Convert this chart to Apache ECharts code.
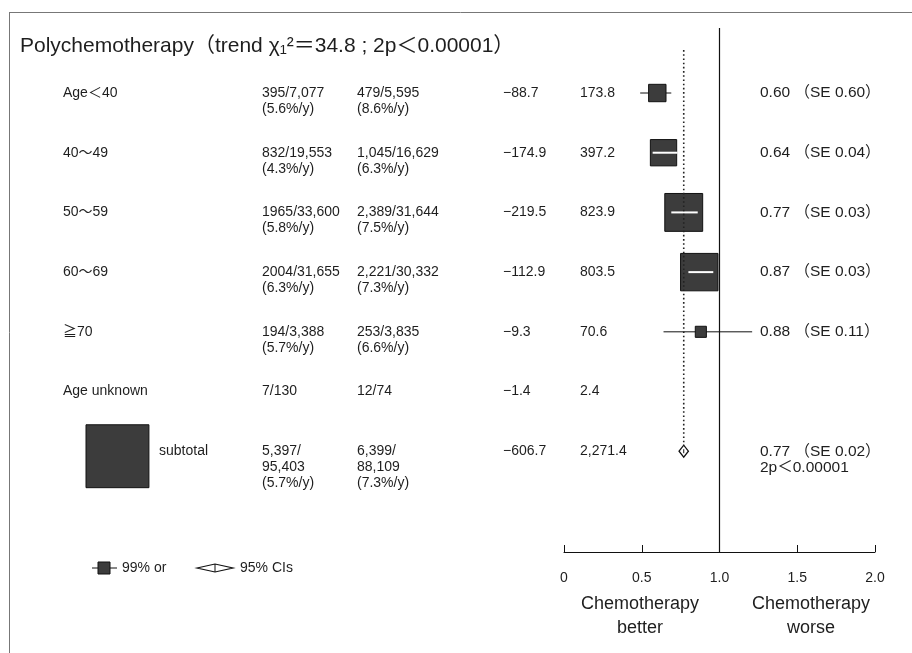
<!DOCTYPE html>
<html><head><meta charset="utf-8">
<script src="https://cdn.jsdelivr.net/npm/echarts@6/dist/echarts.min.js"></script>
<style>html,body{margin:0;padding:0;background:#fff}#c{width:912px;height:653px}</style>
</head><body><div id="c"></div>
<script>
// ---- data ----
const groups = ['Age＜40', '40～49', '50～59', '60～69', '≧70', 'Age unknown', 'subtotal'];
const chemoText = ['395/7,077\n(5.6%/y)', '832/19,553\n(4.3%/y)', '1965/33,600\n(5.8%/y)', '2004/31,655\n(6.3%/y)', '194/3,388\n(5.7%/y)', '7/130', '5,397/\n95,403\n(5.7%/y)'];
const controlText = ['479/5,595\n(8.6%/y)', '1,045/16,629\n(6.3%/y)', '2,389/31,644\n(7.5%/y)', '2,221/30,332\n(7.3%/y)', '253/3,835\n(6.6%/y)', '12/74', '6,399/\n88,109\n(7.3%/y)'];
const obsMinusExp = [-88.7, -174.9, -219.5, -112.9, -9.3, -1.4, -606.7];
const variance = [173.8, 397.2, 823.9, 803.5, 70.6, 2.4, 2271.4];
const ratio = [0.60, 0.64, 0.77, 0.87, 0.88, null, 0.77];
const se = [0.60, 0.04, 0.03, 0.03, 0.11, null, 0.02];
const ciLow = [0.49, 0.57, 0.69, 0.80, 0.64, null, 0.74];
const ciHigh = [0.69, 0.73, 0.86, 0.96, 1.21, null, 0.80];
const overall = 0.77;
const xTicks = ['0', '0.5', '1.0', '1.5', '2.0'];

// ---- helpers ----
const FONT = '"Liberation Sans", Arial, "Noto Sans CJK JP", sans-serif';
const INK = '#1e1e1e';
const sqK = 1.32; // square side (px) per sqrt(variance)
function fmtNum(v) {
  const s = Math.abs(v).toFixed(1);
  const parts = s.split('.');
  parts[0] = parts[0].replace(/\B(?=(\d{3})+(?!\d))/g, ',');
  return (v < 0 ? '−' : '') + parts.join('.');
}
function txt(text, x, y, size, align) {
  return {type: 'text', style: {text: text, x: x, y: y, fontSize: size || 14, fontFamily: FONT,
    fill: INK, align: align || 'left', verticalAlign: 'top', lineHeight: 16}};
}
const rows = groups.map((g, i) => [0, i]);

const chart = echarts.init(document.getElementById('c'), null, {renderer: 'canvas'});
chart.setOption({
  animation: false,
  backgroundColor: '#fff',
  grid: {left: 564, width: 311, top: 28, bottom: 101},
  xAxis: {type: 'value', min: 0, max: 2, interval: 0.5,
    axisLine: {show: true, onZero: false, lineStyle: {color: '#111', width: 1}},
    axisTick: {show: true, inside: true, length: 7, lineStyle: {color: '#111'}},
    splitLine: {show: false},
    axisLabel: {margin: 19, fontSize: 14, fontFamily: FONT, color: INK,
      formatter: (v) => xTicks[Math.round(v * 2)]}},
  yAxis: {type: 'value', inverse: true, min: -1.089, max: 7.688, show: false},
  series: [
    {type: 'line', data: [[1, -1.089], [1, 7.688]], symbol: 'none', silent: true,
      lineStyle: {color: '#111', width: 1.2}},
    {type: 'line', data: [[overall, -0.72], [overall, 5.9]], symbol: 'none', silent: true,
      lineStyle: {color: '#222', width: 1.6, type: [1.6, 2.6]}},
    {type: 'custom', clip: false, data: rows, renderItem: function (params, api) {
      const i = params.dataIndex;
      const y = api.coord([0, i])[1];
      const top = y - 8;
      const ch = [
        txt(groups[i], i === 6 ? 159 : 63, top),
        txt(chemoText[i], 262, top),
        txt(controlText[i], 357, top),
        txt(fmtNum(obsMinusExp[i]), 503, top),
        txt(fmtNum(variance[i]), 580, top)
      ];
      if (ratio[i] != null) {
        let s = ratio[i].toFixed(2) + ' （SE ' + se[i].toFixed(2) + '）';
        if (i === 6) s += '\n2p＜0.00001';
        ch.push(txt(s, 760, top, 15.5));
      }
      if (i === 6) {
        const side = sqK * Math.sqrt(variance[i]);
        ch.push({type: 'rect', shape: {x: 86, y: y - side / 2 + 5, width: side, height: side},
          style: {fill: '#3c3c3c', stroke: '#111', lineWidth: 1}});
      }
      return {type: 'group', children: ch};
    }},
    {type: 'custom', clip: false, data: rows, renderItem: function (params, api) {
      const i = params.dataIndex;
      if (ratio[i] == null) return null;
      const c = api.coord([ratio[i], i]);
      const lo = api.coord([ciLow[i], i]);
      const hi = api.coord([ciHigh[i], i]);
      const ch = [];
      if (i === groups.length - 1) {
        const h = 6;
        ch.push({type: 'polygon', shape: {points: [[lo[0], c[1]], [c[0], c[1] - h], [hi[0], c[1]], [c[0], c[1] + h]]},
          style: {fill: '#fff', stroke: '#111', lineWidth: 1.3}});
        ch.push({type: 'line', shape: {x1: c[0], y1: c[1] - 2, x2: c[0], y2: c[1] + 2}, style: {stroke: '#111', lineWidth: 1}});
        return {type: 'group', children: ch};
      }
      const side = sqK * Math.sqrt(variance[i]);
      const l = c[0] - side / 2, r = c[0] + side / 2;
      const inside = lo[0] >= l - 1 && hi[0] <= r + 1;
      if (!inside) ch.push({type: 'line', shape: {x1: lo[0], y1: c[1], x2: hi[0], y2: c[1]}, style: {stroke: '#111', lineWidth: 1}});
      ch.push({type: 'rect', shape: {x: l, y: c[1] - side / 2, width: side, height: side},
        style: {fill: '#3c3c3c', stroke: '#111', lineWidth: 1}});
      if (inside) ch.push({type: 'line', shape: {x1: lo[0], y1: c[1], x2: hi[0], y2: c[1]}, style: {stroke: '#fff', lineWidth: 2}});
      return {type: 'group', children: ch};
    }}
  ],
  graphic: [
    {type: 'line', shape: {x1: 9.5, y1: 12, x2: 9.5, y2: 653}, style: {stroke: '#777', lineWidth: 1}},
    {type: 'line', shape: {x1: 9, y1: 12.5, x2: 912, y2: 12.5}, style: {stroke: '#777', lineWidth: 1}},
    {type: 'text', style: {text: 'Polychemotherapy（trend χ₁²＝34.8 ; 2p＜0.00001）', x: 20, y: 46, fontSize: 21, fontFamily: FONT, fill: INK, verticalAlign: 'middle'}},
    // key
    {type: 'line', shape: {x1: 92, y1: 568, x2: 117, y2: 568}, style: {stroke: '#111', lineWidth: 1}},
    {type: 'rect', shape: {x: 98, y: 562, width: 12, height: 12}, style: {fill: '#3c3c3c', stroke: '#111', lineWidth: 1}},
    {type: 'text', style: {text: '99% or', x: 122, y: 568, fontSize: 14, fontFamily: FONT, fill: INK, verticalAlign: 'middle'}},
    {type: 'polygon', shape: {points: [[197, 568], [215, 564], [233, 568], [215, 572]]}, style: {fill: '#fff', stroke: '#111', lineWidth: 1.2}},
    {type: 'line', shape: {x1: 215, y1: 564, x2: 215, y2: 572}, style: {stroke: '#111', lineWidth: 1}},
    {type: 'text', style: {text: '95% CIs', x: 240, y: 568, fontSize: 14, fontFamily: FONT, fill: INK, verticalAlign: 'middle'}},
    // axis captions
    {type: 'text', style: {text: 'Chemotherapy\nbetter', x: 640, y: 592, fontSize: 18, fontFamily: FONT, fill: INK, align: 'center', verticalAlign: 'top', lineHeight: 24}},
    {type: 'text', style: {text: 'Chemotherapy\nworse', x: 811, y: 592, fontSize: 18, fontFamily: FONT, fill: INK, align: 'center', verticalAlign: 'top', lineHeight: 24}}
  ]
});
</script>
</body></html>
